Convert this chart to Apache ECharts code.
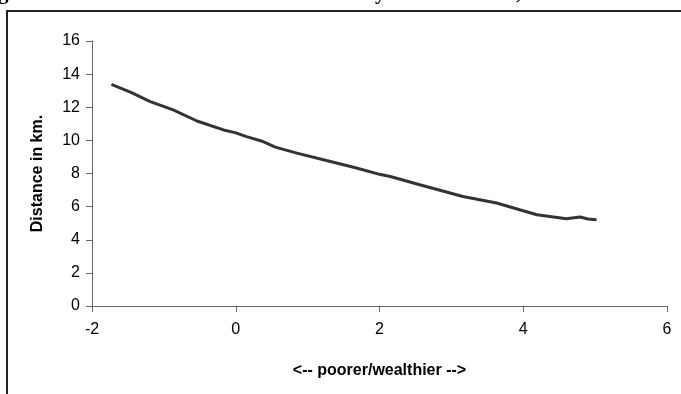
<!DOCTYPE html>
<html>
<head>
<meta charset="utf-8">
<script src="https://cdn.jsdelivr.net/npm/echarts@6/dist/echarts.min.js"></script>
<style>
  html, body { margin: 0; padding: 0; background: #fff; }
  #main { width: 681px; height: 394px; }
</style>
</head>
<body>
<div id="main"></div>
<script>
// wealth index (x) and distance in km (y)
let wealthIdx = [-1.73, -1.45, -1.19, -0.87, -0.54, -0.17, -0.01, 0.15, 0.38, 0.55, 0.85, 1.22, 1.68, 2.0, 2.15, 2.56, 3.16, 3.63, 3.95, 4.19, 4.37, 4.6, 4.79, 4.9, 5.02]
let distKm = [13.38, 12.88, 12.34, 11.84, 11.17, 10.63, 10.47, 10.23, 9.93, 9.59, 9.23, 8.83, 8.33, 7.95, 7.82, 7.32, 6.61, 6.22, 5.81, 5.51, 5.41, 5.27, 5.37, 5.25, 5.21]
let xTicks = [-2, 0, 2, 4, 6]
let yTicks = [0, 2, 4, 6, 8, 10, 12, 14, 16]

let points = wealthIdx.map(function (x, i) { return [x, distKm[i]] })

let myChart = echarts.init(document.getElementById('main'))
let FONT = 'Liberation Sans, Arial, sans-serif'
let AXIS_COLOR = '#666'
let TITLE_FONT = 'bold 21px "Liberation Serif", serif'

myChart.setOption({
    animation: false,
    backgroundColor: '#fff',
    grid: { left: 92, top: 41, right: 14, bottom: 88 },
    // 外框和被截掉的标题
    graphic: [
        { type: 'rect', shape: { x: 7, y: 11, width: 720, height: 420 },
          style: { fill: 'none', stroke: '#222', lineWidth: 2 }, silent: true },
        { type: 'text', left: -2, top: -17, style: { text: 'g', font: TITLE_FONT, fill: '#000' } },
        { type: 'text', left: 375, top: -17, style: { text: 'y', font: TITLE_FONT, fill: '#000' } },
        { type: 'text', left: 516, top: -17, style: { text: ',', font: TITLE_FONT, fill: '#000' } }
    ],
    xAxis: {
        type: 'value',
        min: xTicks[0],
        max: xTicks[xTicks.length - 1],
        interval: 2,
        name: '<-- poorer/wealthier -->',
        nameLocation: 'middle',
        nameGap: 57,
        nameTextStyle: { fontFamily: FONT, fontWeight: 'bold', fontSize: 16, color: '#000' },
        axisLine: { show: true, onZero: false, lineStyle: { color: AXIS_COLOR, width: 1 } },
        axisTick: { show: true, inside: false, length: 6, lineStyle: { color: AXIS_COLOR } },
        axisLabel: { fontFamily: FONT, fontSize: 16, color: '#000', margin: 16,
            formatter: function (v) { return String(v) } },
        splitLine: { show: false }
    },
    yAxis: {
        type: 'value',
        min: yTicks[0],
        max: yTicks[yTicks.length - 1],
        interval: 2,
        name: 'Distance in km.',
        nameLocation: 'middle',
        nameGap: 46,
        nameTextStyle: { fontFamily: FONT, fontWeight: 'bold', fontSize: 16, color: '#000' },
        axisLine: { show: true, onZero: false, lineStyle: { color: AXIS_COLOR, width: 1 } },
        axisTick: { show: true, inside: false, length: 6, lineStyle: { color: AXIS_COLOR } },
        axisLabel: { fontFamily: FONT, fontSize: 16, color: '#000', margin: 12 },
        splitLine: { show: false }
    },
    series: [
        {
            type: 'line',
            data: points,
            showSymbol: false,
            smooth: false,
            lineStyle: { color: '#333', width: 3 }
        }
    ]
})
</script>
</body>
</html>
